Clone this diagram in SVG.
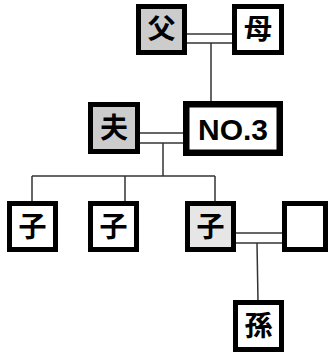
<svg xmlns="http://www.w3.org/2000/svg" width="328" height="354" viewBox="0 0 328 354">
<style>
.box{fill:#fff;stroke:#000;stroke-width:5}
.g1{fill:#cccccc}
.g2{fill:#e6e6e6}
.t{font-family:"Noto Sans CJK JP","Noto Sans CJK SC",sans-serif;font-size:28px;font-weight:bold;text-anchor:middle;fill:#000}
.n{font-family:"Liberation Sans",Arial,sans-serif;font-size:30px;font-weight:bold;text-anchor:middle;fill:#000}
.ln{stroke:#333;stroke-width:1.5;fill:none}
</style>
<rect width="328" height="354" fill="#fff"/>
<g id="connectors">
<line class="ln" x1="187" y1="34" x2="232" y2="34"/>
<line class="ln" x1="187" y1="43" x2="232" y2="43"/>
<line class="ln" x1="211" y1="43" x2="211" y2="102"/>
<line class="ln" x1="140" y1="133" x2="184" y2="133"/>
<line class="ln" x1="140" y1="143" x2="184" y2="143"/>
<line class="ln" x1="163" y1="143" x2="163" y2="176"/>
<line class="ln" x1="32" y1="176" x2="215" y2="176"/>
<line class="ln" x1="32" y1="176" x2="32" y2="202"/>
<line class="ln" x1="125" y1="176" x2="125" y2="202"/>
<line class="ln" x1="215" y1="176" x2="215" y2="202"/>
<line class="ln" x1="236" y1="233" x2="282" y2="233"/>
<line class="ln" x1="236" y1="243" x2="282" y2="243"/>
<line class="ln" x1="257" y1="243" x2="258" y2="301"/>
</g>
<g id="father"><rect class="box g1" x="138.5" y="6.5" width="46" height="46"/><text class="t" x="161.5" y="39">父</text></g>
<g id="mother"><rect class="box" x="234.5" y="6.5" width="47" height="46"/><text class="t" x="258" y="39">母</text></g>
<g id="husband"><rect class="box g1" x="90.5" y="104.5" width="47" height="47"/><text class="t" x="114" y="138">夫</text></g>
<g id="no3"><rect class="box" style="stroke-width:6.5" x="186.25" y="104.25" width="93.5" height="48.5"/><text class="n" x="233" y="139.5">NO.3</text></g>
<g id="child1"><rect class="box" x="9.5" y="203.5" width="46" height="46"/><text class="t" x="32.5" y="237">子</text></g>
<g id="child2"><rect class="box" x="90.5" y="203.5" width="46" height="46"/><text class="t" x="113.5" y="237">子</text></g>
<g id="child3"><rect class="box g2" x="187.5" y="203.5" width="46" height="46"/><text class="t" x="210.5" y="237">子</text></g>
<g id="spouse"><rect class="box" x="284.5" y="203.5" width="41" height="46"/></g>
<g id="grandchild"><rect class="box" x="235.5" y="302.5" width="46" height="47"/><text class="t" x="258.5" y="336">孫</text></g>
</svg>
